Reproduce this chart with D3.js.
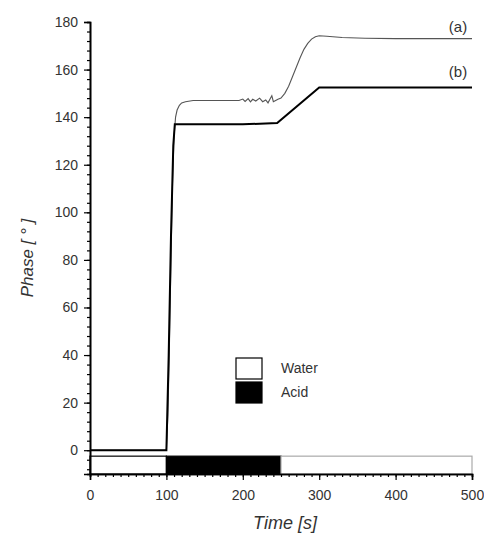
<!DOCTYPE html>
<html><head><meta charset="utf-8">
<script src="https://cdn.jsdelivr.net/npm/d3@7"></script>
<style>body{margin:0;background:#fff}svg{display:block}</style>
</head><body>
<svg id="c" width="484" height="535"></svg>
<script>
// Series (a): water-referenced phase curve (thin grey)
const timeA  = [0,100,102,104,106,108,110,112,114,117,120,125,135,150,170,190,195,200,203,207,210,213,217,222,226,230,233,236,238,240,243,246,250,255,260,265,270,275,280,285,290,295,300,310,330,360,400,450,500];
const phaseA = [0,0,15,45,80,112,132,140,143,145,146,146.5,147,147,147,147,147,147.6,146.6,147.8,146.4,147.5,146.8,148,146.5,147.2,146,147.8,149,146.5,147,147.5,148,150,153,157,161,165,168.5,171,172.8,173.8,174.2,174,173.5,173.2,173,173,173];
// Series (b): thick black curve
const timeB  = [0,100,103,106,109,111,150,200,245,300,350,400,450,500];
const phaseB = [0,0,40,90,128,137,137,137,137.5,152.5,152.5,152.5,152.5,152.5];
// Stimulus bar
const stimStart = [0,100,250];
const stimEnd   = [100,250,500];
const stimType  = ["Water","Acid","Water"];
const legendLabels = ["Water","Acid"];
const curveLabels = ["(a)","(b)"];
const xTicks = [0,100,200,300,400,500];
const yTicks = [0,20,40,60,80,100,120,140,160,180];

const svg = d3.select("#c");
const x = d3.scaleLinear().domain([0,500]).range([90,472]);
const y = d3.scaleLinear().domain([-10,180]).range([474,22]);
const font = "'Liberation Sans', Arial, sans-serif";

// stimulus bar
stimStart.forEach((s,i)=>{
  const acid = stimType[i]==="Acid";
  const last = i===stimStart.length-1;
  svg.append("rect")
    .attr("x",x(s)).attr("y",y(-2.5))
    .attr("width",x(stimEnd[i])-x(s)).attr("height",y(-10)-y(-2.5))
    .attr("fill",acid?"#000":"#fff")
    .attr("stroke",last?"#aaa":"#000").attr("stroke-width",1.2);
});

// curves
const line = d3.line().x(d=>x(d[0])).y(d=>y(d[1]));
svg.append("path").datum(timeA.map((t,i)=>[t,phaseA[i]]))
  .attr("d",line).attr("fill","none").attr("stroke","#555").attr("stroke-width",1.1);
svg.append("path").datum(timeB.map((t,i)=>[t,phaseB[i]]))
  .attr("d",line).attr("fill","none").attr("stroke","#000").attr("stroke-width",2);

// axes
const yMinor = d3.range(-8,181,4);
const yAxisMinor = d3.axisLeft(y).tickValues(yMinor).tickSize(3).tickFormat("");
const yAxis = d3.axisLeft(y).tickValues(yTicks).tickSize(6).tickPadding(6);
const xMinor = d3.range(0,501,10);
const xAxisMinor = d3.axisBottom(x).tickValues(xMinor).tickSize(3).tickFormat("");
const xAxis = d3.axisBottom(x).tickValues(xTicks).tickSize(6).tickPadding(10);

function style(g){
  g.selectAll("path.domain").attr("stroke","#000").attr("stroke-width",1.6);
  g.selectAll("line").attr("stroke","#000").attr("stroke-width",1.2);
  g.selectAll("text").attr("font-family",font).attr("font-size",14).attr("fill","#333");
}
svg.append("g").attr("transform",`translate(${x(0)},0)`).call(yAxisMinor).call(style);
svg.append("g").attr("transform",`translate(${x(0)},0)`).call(yAxis).call(style);
svg.append("g").attr("transform",`translate(0,${y(-10)})`).call(xAxisMinor).call(style);
svg.append("g").attr("transform",`translate(0,${y(-10)})`).call(xAxis).call(style);

// axis titles
svg.append("text").attr("transform",`translate(33,258) rotate(-90)`)
  .attr("text-anchor","middle").attr("font-family",font).attr("font-size",17)
  .attr("font-style","italic").attr("fill","#333").text("Phase [ ° ]");
svg.append("text").attr("x",285).attr("y",529)
  .attr("text-anchor","middle").attr("font-family",font).attr("font-size",18)
  .attr("font-style","italic").attr("fill","#333").text("Time [s]");

// curve labels
svg.append("text").attr("x",458).attr("y",32).attr("text-anchor","middle")
  .attr("font-family",font).attr("font-size",15).attr("fill","#333").text(curveLabels[0]);
svg.append("text").attr("x",458).attr("y",77).attr("text-anchor","middle")
  .attr("font-family",font).attr("font-size",15).attr("fill","#333").text(curveLabels[1]);

// legend
legendLabels.forEach((l,i)=>{
  const yy = 358 + i*24;
  svg.append("rect").attr("x",236).attr("y",yy).attr("width",26).attr("height",21)
    .attr("fill",l==="Acid"?"#000":"#fff").attr("stroke","#000").attr("stroke-width",1.2);
  svg.append("text").attr("x",281).attr("y",yy+15).attr("font-family",font)
    .attr("font-size",14).attr("fill","#333").text(l);
});
</script>
</body></html>
